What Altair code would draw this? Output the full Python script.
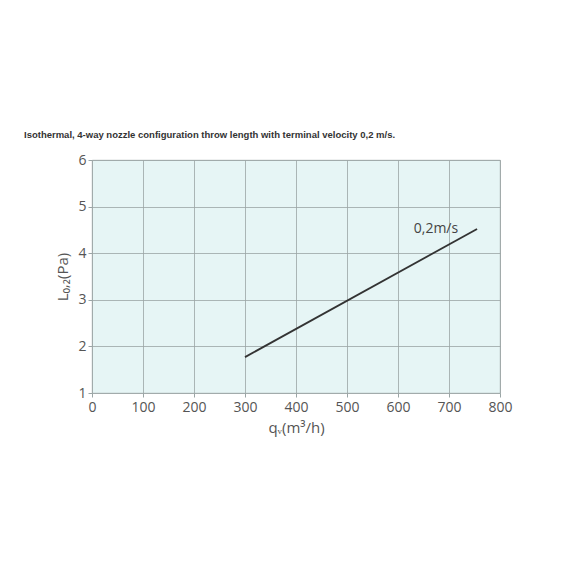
import altair as alt
import pandas as pd

# data
flow = [300, 755]
throw = [1.77, 4.52]
label_text = ["0,2m/s"]
label_x = [718]
label_y = [4.52]

title_text = "Isothermal, 4-way nozzle configuration throw length with terminal velocity 0,2 m/s."

line_df = pd.DataFrame({"q": flow, "L": throw})
lab_df = pd.DataFrame({"q": label_x, "L": label_y, "t": label_text})

FONT = "Open Sans"
GRID = "#9aa5a5"

xs = alt.Scale(domain=[0, 800], nice=False, zero=False)
ys = alt.Scale(domain=[1, 6], nice=False, zero=False)

xaxis = alt.Axis(values=list(range(0, 801, 100)), title="qᵥ(m³/h)", grid=True,
                 gridColor=GRID, gridWidth=0.8, domain=False, tickColor=GRID, tickSize=4,
                 labelFont=FONT, labelFontSize=14, labelColor="#555", labelPadding=3,
                 labelFlush=False, labelOverlap=False,
                 titleFont=FONT, titleFontSize=15, titleColor="#555", titleFontWeight="normal",
                 titlePadding=6)
yaxis = alt.Axis(values=[1, 2, 3, 4, 5, 6], title="L₀,₂(Pa)", grid=True,
                 gridColor=GRID, gridWidth=0.8, domain=False, tickColor=GRID, tickSize=4,
                 labelFont=FONT, labelFontSize=14, labelColor="#555", labelPadding=2,
                 labelFlush=False, labelOverlap=False,
                 titleFont=FONT, titleFontSize=15, titleColor="#555", titleFontWeight="normal",
                 titlePadding=7)

line = alt.Chart(line_df).mark_line(color="#333", strokeWidth=1.8).encode(
    x=alt.X("q:Q", scale=xs, axis=xaxis),
    y=alt.Y("L:Q", scale=ys, axis=yaxis),
)
label = alt.Chart(lab_df).mark_text(font=FONT, fontSize=14, color="#444",
                                     align="right", baseline="middle").encode(
    x=alt.X("q:Q", scale=xs),
    y=alt.Y("L:Q", scale=ys),
    text="t:N",
)

chart = (line + label).properties(
    width=408, height=233,
    title=alt.TitleParams(title_text, anchor="start", dx=-32, offset=14,
                          font="Liberation Sans", fontSize=9.5, fontWeight="bold",
                          color="#333"),
    autosize=alt.AutoSizeParams(type="none"),
    padding={"left": 84, "top": 152, "right": 68, "bottom": 140},
).configure_view(fill="#e6f5f5", stroke=GRID, strokeWidth=0.8)

chart.save("out.html", embed_options={"renderer": "svg", "actions": False})
